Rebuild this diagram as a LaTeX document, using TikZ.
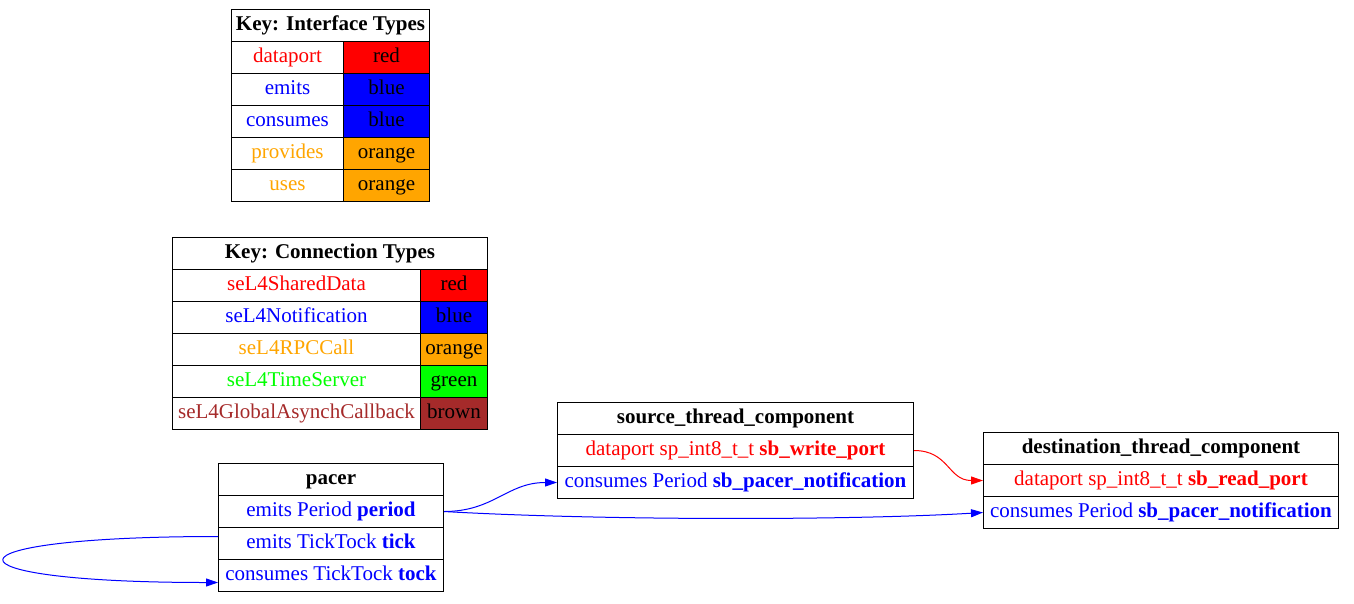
\documentclass[tikz,border=0pt]{standalone}
\usepackage{fontspec}
\setmainfont{Liberation Serif}
\usetikzlibrary{arrows.meta}
\definecolor{gvred}{HTML}{FF0000}
\definecolor{gvblue}{HTML}{0000FF}
\definecolor{gvorange}{HTML}{FFA500}
\definecolor{gvgreen}{HTML}{00FF00}
\definecolor{gvbrown}{HTML}{A52A2A}
\newcommand{\gvfont}{\fontsize{21}{24}\selectfont}

\begin{document}
\begin{tikzpicture}[
  x=1pt, y=-1pt,
  >={Triangle[length=12pt, width=8pt]},
  cell/.style={draw=black, line width=1pt, anchor=north west, minimum height=32pt,
    inner sep=0pt, text height=14.5pt, text depth=4.5pt, font=\gvfont},
  head/.style={cell, font=\gvfont\bfseries},
  swatch/.style={cell, fill=#1},
  arr/.style={->, line width=1pt, #1},
]

\useasboundingbox (0,0) rectangle (1354,603);

% === Key: Interface Types ===
\node[head, minimum width=198pt] (ifTitle) at (231,9) {Key: Interface Types};
\node[cell, minimum width=112pt, text=gvred] (ifData) at (231,41) {dataport};
\node[swatch=gvred, minimum width=86pt] (ifDataC) at (343,41) {red};
\node[cell, minimum width=112pt, text=gvblue] (ifEmits) at (231,73) {emits};
\node[swatch=gvblue, minimum width=86pt] (ifEmitsC) at (343,73) {blue};
\node[cell, minimum width=112pt, text=gvblue] (ifCons) at (231,105) {consumes};
\node[swatch=gvblue, minimum width=86pt] (ifConsC) at (343,105) {blue};
\node[cell, minimum width=112pt, text=gvorange] (ifProv) at (231,137) {provides};
\node[swatch=gvorange, minimum width=86pt] (ifProvC) at (343,137) {orange};
\node[cell, minimum width=112pt, text=gvorange] (ifUses) at (231,169) {uses};
\node[swatch=gvorange, minimum width=86pt] (ifUsesC) at (343,169) {orange};

% === Key: Connection Types ===
\node[head, minimum width=315pt] (cnTitle) at (172,237) {Key: Connection Types};
\node[cell, minimum width=248pt, text=gvred] (cnShared) at (172,269) {seL4SharedData};
\node[swatch=gvred, minimum width=67pt] (cnSharedC) at (420,269) {red};
\node[cell, minimum width=248pt, text=gvblue] (cnNotif) at (172,301) {seL4Notification};
\node[swatch=gvblue, minimum width=67pt] (cnNotifC) at (420,301) {blue};
\node[cell, minimum width=248pt, text=gvorange] (cnRpc) at (172,333) {seL4RPCCall};
\node[swatch=gvorange, minimum width=67pt] (cnRpcC) at (420,333) {orange};
\node[cell, minimum width=248pt, text=gvgreen] (cnTime) at (172,365) {seL4TimeServer};
\node[swatch=gvgreen, minimum width=67pt] (cnTimeC) at (420,365) {green};
\node[cell, minimum width=248pt, text=gvbrown] (cnAsync) at (172,397) {seL4GlobalAsynchCallback};
\node[swatch=gvbrown, minimum width=67pt] (cnAsyncC) at (420,397) {brown};

% === pacer ===
\node[head, minimum width=225pt] (pTitle) at (218,463) {pacer};
\node[cell, minimum width=225pt, text=gvblue] (pPeriod) at (218,495)
  {emits Period \textbf{period}};
\node[cell, minimum width=225pt, text=gvblue] (pTick) at (218,527)
  {emits TickTock \textbf{tick}};
\node[cell, minimum width=225pt, text=gvblue] (pTock) at (218,559)
  {consumes TickTock \textbf{tock}};

% === source_thread_component ===
\node[head, minimum width=356pt] (srcTitle) at (557,402) {source\_thread\_component};
\node[cell, minimum width=356pt, text=gvred] (srcWrite) at (557,434)
  {dataport sp\_int8\_t\_t \textbf{sb\_write\_port}};
\node[cell, minimum width=356pt, text=gvblue] (srcCons) at (557,466)
  {consumes Period \textbf{sb\_pacer\_notification}};

% === destination_thread_component ===
\node[head, minimum width=355pt] (dstTitle) at (983,432) {destination\_thread\_component};
\node[cell, minimum width=355pt, text=gvred] (dstRead) at (983,464)
  {dataport sp\_int8\_t\_t \textbf{sb\_read\_port}};
\node[cell, minimum width=355pt, text=gvblue] (dstCons) at (983,496)
  {consumes Period \textbf{sb\_pacer\_notification}};

% Connections
\draw[arr=gvblue] (pPeriod.east) .. controls +(50,0) and +(-50,0) .. (srcCons.west);
\draw[arr=gvblue] (pPeriod.east) .. controls +(157,9) and +(-133,8) .. (dstCons.west);
\draw[arr=gvred] (srcWrite.east) .. controls +(35,0) and +(-35,0) .. (dstRead.west);

% Self loop on pacer
\draw[arr=gvblue] ([yshift=7pt]pTick.west) .. controls +(-285,0) and +(-285,0)
  .. ([yshift=-7pt]pTock.west);

\end{tikzpicture}
\end{document}
